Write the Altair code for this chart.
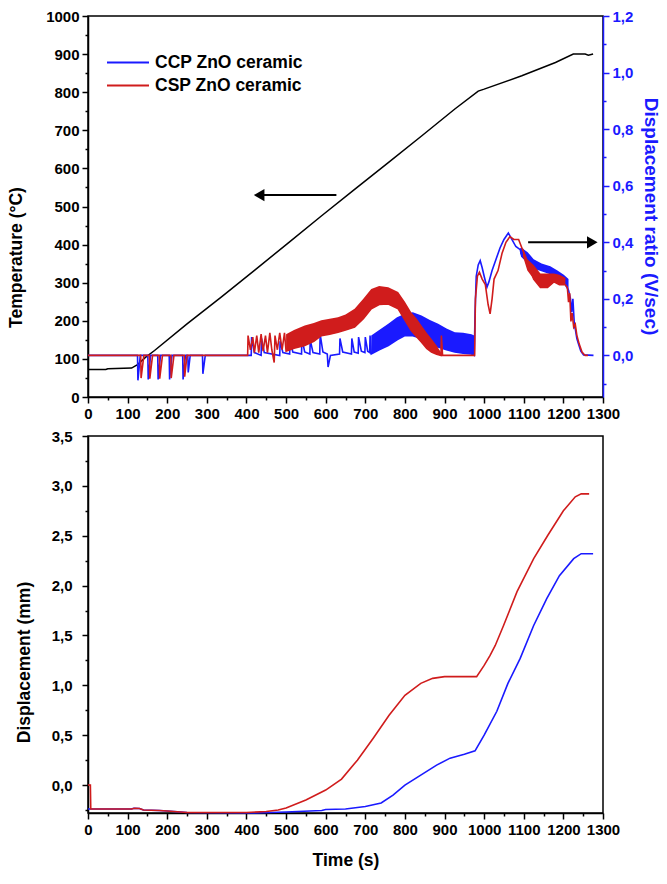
import altair as alt
import pandas as pd

# ---------------- data ----------------
series_names = ["CCP ZnO ceramic", "CSP ZnO ceramic"]
series_colors = ["#1a1aff", "#d01c1c"]

# temperature (black), time s -> °C
temp_time = [0, 45, 50, 110, 125, 145, 168, 250, 337, 421, 505, 589, 673, 758,
             842, 926, 985, 1000, 1095, 1180, 1225, 1255, 1263, 1275]
temp_vals = [72, 72, 74, 76, 85, 104, 122, 192, 263, 333, 404, 475, 545, 615,
             685, 756, 803, 808, 843, 878, 900, 900, 897, 900]

# displacement ratio (V/sec) lines: (time, ratio)
ccp_ratio = [(0, 0), (125, 0), (126, -0.088), (132, 0), (151, 0), (152, -0.085), (158, 0),
             (176, 0), (177, -0.085), (183, 0), (205, 0), (206, -0.085), (212, 0),
             (239, 0), (240, -0.085), (246, 0), (252, 0), (253, -0.06), (258, 0),
             (289, 0), (290, -0.065), (296, 0),
             (412, 0), (413, 0.065), (420, 0.01), (437, 0), (438, 0.06), (445, 0.01),
             (484, 0), (485, 0.05), (492, 0.01), (509, 0.005), (510, 0.055), (517, 0.012),
             (539, 0.005), (540, 0.06), (547, 0.012), (560, 0.005), (561, 0.055), (568, 0.01),
             (585, 0.005), (586, 0.075), (593, 0.012), (604, 0.005), (606, -0.041), (612, 0),
             (635, 0.005), (636, 0.06), (643, 0.012), (665, 0.005), (666, 0.06), (672, 0.012),
             (682, 0.008), (683, 0.065), (690, 0.015), (699, 0.01), (700, 0.065), (706, 0.015),
             (711, 0.01), (712, 0.07), (715, 0.005), (735, 0.02), (758, 0.035), (780, 0.055),
             (800, 0.07), (820, 0.07), (842, 0.06), (863, 0.045), (884, 0.03), (905, 0.02),
             (926, 0.012), (947, 0.008), (968, 0.005), (975, 0), (977, 0.15), (980, 0.28),
             (985, 0.32), (990, 0.335), (995, 0.31), (1000, 0.28), (1007, 0.241), (1012, 0.26),
             (1020, 0.3), (1030, 0.34), (1040, 0.38), (1050, 0.41), (1061, 0.433), (1070, 0.41),
             (1080, 0.385), (1091, 0.374), (1095, 0.35), (1110, 0.33), (1125, 0.31),
             (1145, 0.3), (1167, 0.29), (1185, 0.27), (1201, 0.26), (1213, 0.23), (1218, 0.2),
             (1221, 0.153), (1224, 0.2), (1228, 0.1), (1230, 0.094), (1234, 0.06),
             (1238, 0.041), (1244, 0.015), (1251, 0.002), (1276, 0)]

csp_ratio = [(0, 0), (133, 0), (134, -0.08), (141, 0), (155, 0), (156, -0.082), (163, 0),
             (180, 0), (181, -0.082), (188, 0), (209, 0), (210, -0.08), (217, 0),
             (243, 0), (244, -0.075), (250, 0), (403, 0), (404, 0.07), (410, 0.02),
             (416, 0.065), (420, 0.01), (426, 0.07), (431, 0.01), (437, 0.075), (442, 0.015),
             (448, 0.07), (453, 0.01), (459, 0.08), (464, 0.02), (470, -0.025), (472, 0.07),
             (478, 0.02), (484, 0.08), (490, 0.02), (496, 0.08), (500, 0.015), (520, 0.025),
             (547, 0.035), (570, 0.05), (589, 0.07), (610, 0.075), (631, 0.082), (650, 0.09),
             (673, 0.1), (695, 0.13), (715, 0.165), (735, 0.18), (758, 0.182), (783, 0.165),
             (800, 0.125), (816, 0.088), (830, 0.065), (842, 0.047), (855, 0.025),
             (867, 0.012), (880, 0.004), (891, 0), (892, 0.07), (895, 0), (976, 0),
             (978, 0.2), (983, 0.28), (988, 0.294), (995, 0.27), (1003, 0.25), (1010, 0.18),
             (1015, 0.147), (1020, 0.2), (1025, 0.27), (1035, 0.3), (1045, 0.36), (1055, 0.4),
             (1065, 0.42), (1075, 0.41), (1087, 0.41), (1098, 0.37), (1109, 0.33),
             (1125, 0.27), (1142, 0.24), (1160, 0.24), (1176, 0.26), (1190, 0.25),
             (1205, 0.25), (1210, 0.24), (1213, 0.188), (1216, 0.22), (1219, 0.12),
             (1222, 0.15), (1226, 0.1), (1230, 0.11), (1234, 0.071), (1240, 0.04),
             (1247, 0.012), (1255, 0), (1262, 0)]

# dense-noise envelopes: (time, low, high)
ccp_band = [(715, 0.005, 0.07), (735, 0.02, 0.09), (758, 0.035, 0.112), (780, 0.055, 0.135),
            (800, 0.07, 0.147), (820, 0.07, 0.153), (842, 0.06, 0.141), (863, 0.045, 0.125),
            (884, 0.03, 0.112), (905, 0.02, 0.095), (926, 0.012, 0.082), (947, 0.008, 0.08),
            (968, 0.005, 0.075), (975, 0.0, 0.07),
            (1091, 0.36, 0.38), (1095, 0.35, 0.38), (1110, 0.33, 0.365), (1125, 0.31, 0.34),
            (1145, 0.3, 0.325), (1167, 0.29, 0.315), (1185, 0.27, 0.3), (1201, 0.26, 0.285),
            (1213, 0.23, 0.27)]
ccp_band_group = [1] * 14 + [2] * 9

csp_band = [(500, 0.015, 0.075), (520, 0.025, 0.09), (547, 0.035, 0.106), (570, 0.05, 0.115),
            (589, 0.07, 0.124), (610, 0.075, 0.13), (631, 0.082, 0.135), (650, 0.09, 0.145),
            (673, 0.1, 0.165), (695, 0.13, 0.2), (715, 0.165, 0.235), (735, 0.18, 0.245),
            (758, 0.182, 0.241), (783, 0.165, 0.224), (800, 0.125, 0.19), (816, 0.088, 0.153),
            (830, 0.065, 0.13), (842, 0.047, 0.106), (855, 0.025, 0.08), (867, 0.012, 0.059),
            (880, 0.004, 0.035), (891, 0.0, 0.01),
            (1098, 0.35, 0.38), (1109, 0.3, 0.34), (1125, 0.27, 0.32), (1142, 0.24, 0.29),
            (1160, 0.24, 0.29), (1176, 0.26, 0.29), (1190, 0.25, 0.285), (1205, 0.25, 0.275)]
csp_band_group = [1] * 22 + [2] * 8

# displacement (mm)
ccp_disp = [(0, -0.24), (110, -0.24), (115, -0.232), (130, -0.235), (140, -0.25),
            (180, -0.255), (200, -0.26), (250, -0.275), (420, -0.28), (500, -0.27),
            (590, -0.255), (600, -0.245), (650, -0.24), (700, -0.215), (740, -0.18),
            (770, -0.1), (800, 0.0), (840, 0.1), (880, 0.2), (914, 0.27), (950, 0.31),
            (977, 0.343), (1000, 0.5), (1032, 0.74), (1060, 1.02), (1091, 1.27),
            (1125, 1.6), (1158, 1.87), (1190, 2.1), (1226, 2.27), (1245, 2.32), (1275, 2.32)]
csp_disp = [(0, 0), (6, 0), (7, -0.24), (110, -0.24), (118, -0.232), (130, -0.235),
            (140, -0.25), (180, -0.255), (200, -0.26), (250, -0.275), (400, -0.275),
            (450, -0.265), (480, -0.25), (500, -0.23), (550, -0.15), (600, -0.05),
            (640, 0.06), (680, 0.25), (720, 0.47), (760, 0.7), (800, 0.9), (840, 1.02),
            (870, 1.07), (900, 1.087), (981, 1.087), (1000, 1.2), (1015, 1.3), (1028, 1.4),
            (1049, 1.6), (1083, 1.94), (1125, 2.27), (1160, 2.5), (1200, 2.75),
            (1230, 2.89), (1245, 2.92), (1265, 2.92)]

# annotation arrows (data units)
arrow_left = {"t_head": 432, "t_tail": 627, "T": 530}
arrow_right = {"t_head": 1273, "t_tail": 1111, "r": 0.4}

# ---------------- tables ----------------
def line_df(pairs, name, col):
    return pd.DataFrame({"t": [p[0] for p in pairs], col: [p[1] for p in pairs],
                         "series": name, "order": range(len(pairs))})

def band_df(rows, groups, name):
    return pd.DataFrame({"t": [r[0] for r in rows], "lo": [r[1] for r in rows],
                         "hi": [r[2] for r in rows], "series": name,
                         "grp": [f"{name}-{g}" for g in groups]})

temp_df = pd.DataFrame({"t": temp_time, "T": temp_vals})
ratio_df = pd.concat([line_df(ccp_ratio, series_names[0], "r"),
                      line_df(csp_ratio, series_names[1], "r")])
band_all = pd.concat([band_df(ccp_band, ccp_band_group, series_names[0]),
                      band_df(csp_band, csp_band_group, series_names[1])])
disp_df = pd.concat([line_df(ccp_disp, series_names[0], "d"),
                     line_df(csp_disp, series_names[1], "d")])

arrL_rule = pd.DataFrame({"t": [arrow_left["t_head"]], "t2": [arrow_left["t_tail"]],
                          "T": [arrow_left["T"]]})
arrR_rule = pd.DataFrame({"t": [arrow_right["t_tail"]], "t2": [arrow_right["t_head"]],
                          "r": [arrow_right["r"]]})

FONT = "Liberation Sans"
LBL = 15
TTL = 17.5
BLUE = "#1a1aff"

color_scale = alt.Scale(domain=series_names, range=series_colors)

x_scale = alt.Scale(domain=[0, 1300], nice=False, zero=False)
x_vals = list(range(0, 1301, 50))
x_major = "datum.value % 100 === 0"


def x_axis(title):
    kw = dict(values=x_vals, labelExpr=f"{x_major} ? format(datum.value, 'd') : ''",
              tickSize={"condition": {"test": x_major, "value": 6}, "value": 3},
              labelFlush=False, labelOverlap=False, grid=False, labelPadding=3)
    if title:
        return alt.Axis(title=title, titlePadding=14, **kw)
    return alt.Axis(title=None, **kw)


X_top = alt.X("t:Q", scale=x_scale, axis=x_axis(None))
X_bot = alt.X("t:Q", scale=x_scale, axis=x_axis("Time (s)"))

TOP_H = 381
BOT_H = 377

# left temperature axis
T_major = "datum.value % 100 === 0"
T_axis = alt.Axis(title="Temperature (°C)", values=list(range(0, 1001, 50)),
                  labelExpr=f"{T_major} ? format(datum.value, 'd') : ''",
                  tickSize={"condition": {"test": T_major, "value": 6}, "value": 3},
                  grid=False, labelOverlap=False, labelPadding=3, titlePadding=20,
                  titleY=241)
T_scale = alt.Scale(domain=[0, 1000], nice=False, zero=False)

# right ratio axis
r_major = "abs(round(datum.value*10)) % 2 === 0"
r_axis = alt.Axis(title="Displacement ratio (V/sec)", orient="right",
                  values=[i / 10 for i in range(-1, 13)],
                  labelExpr=f"{r_major} ? replace(format(datum.value, '.1f'), '.', ',') : ''",
                  tickSize={"condition": {"test": r_major, "value": 6}, "value": 3},
                  grid=False, labelOverlap=False, labelPadding=3, titlePadding=8,
                  titleY=200, titleFontSize=19,
                  domainColor=BLUE, tickColor=BLUE, labelColor=BLUE, titleColor=BLUE)
r_scale = alt.Scale(domain=[-0.147, 1.2], nice=False, zero=False)

# bottom displacement axis
d_major = "round(datum.value*4) % 2 === 0"
d_axis = alt.Axis(title="Displacement (mm)", values=[i / 4 for i in range(-1, 15)],
                  labelExpr=f"{d_major} ? replace(format(datum.value, '.1f'), '.', ',') : ''",
                  tickSize={"condition": {"test": d_major, "value": 6}, "value": 3},
                  grid=False, labelOverlap=False, labelPadding=10, titlePadding=18,
                  titleY=226)
d_scale = alt.Scale(domain=[-0.28, 3.5], nice=False, zero=False)

W = 515

# ---- top panel ----
temp_line = alt.Chart(temp_df).mark_line(color="black", strokeWidth=1.5).encode(
    x=X_top, y=alt.Y("T:Q", scale=T_scale, axis=T_axis))
arrL = alt.Chart(arrL_rule).mark_rule(color="black", strokeWidth=2).encode(
    x=X_top, x2="t2", y=alt.Y("T:Q", scale=T_scale, axis=T_axis))
arrL_head = alt.Chart(arrL_rule).mark_point(shape="triangle-left", size=150, filled=True,
                                            color="black", opacity=1).encode(
    x=X_top, y=alt.Y("T:Q", scale=T_scale, axis=T_axis))
temp_group = alt.layer(temp_line, arrL, arrL_head)

bands = alt.Chart(band_all).mark_area(opacity=1, interpolate="linear").encode(
    x=X_top, y=alt.Y("lo:Q", scale=r_scale, axis=r_axis), y2="hi",
    fill=alt.Fill("series:N", scale=color_scale, legend=None),
    detail="grp:N")
ccp_band_layer = bands.transform_filter(alt.datum.series == series_names[0])
csp_band_layer = bands.transform_filter(alt.datum.series == series_names[1])

ratio_lines = alt.Chart(ratio_df).mark_line(strokeWidth=1.6).encode(
    x=X_top, y=alt.Y("r:Q", scale=r_scale, axis=r_axis),
    color=alt.Color("series:N", scale=color_scale,
                    legend=alt.Legend(title=None, orient="none", legendX=18, legendY=35,
                                      symbolType="stroke", symbolSize=1764,
                                      symbolStrokeWidth=2, labelFontSize=TTL,
                                      labelFont=FONT, labelFontWeight="bold",
                                      clipHeight=23, rowPadding=0, padding=0,
                                      labelOffset=5, labelColor="black")),
    order="order:Q")
ccp_line = ratio_lines.transform_filter(alt.datum.series == series_names[0])
csp_line = ratio_lines.transform_filter(alt.datum.series == series_names[1])

arrR = alt.Chart(arrR_rule).mark_rule(color="black", strokeWidth=2).encode(
    x=X_top, x2="t2", y=alt.Y("r:Q", scale=r_scale, axis=r_axis))
arrR_head = alt.Chart(arrR_rule).mark_point(shape="triangle-right", size=150, filled=True,
                                            color="black", opacity=1).encode(
    x=alt.X("t2:Q", scale=x_scale, axis=x_axis(None)),
    y=alt.Y("r:Q", scale=r_scale, axis=r_axis))

ratio_group = alt.layer(ccp_line, ccp_band_layer, csp_line, csp_band_layer, arrR, arrR_head)

top = alt.layer(temp_group, ratio_group).resolve_scale(y="independent").properties(
    width=W, height=TOP_H)

# ---- bottom panel ----
bottom = alt.Chart(disp_df).mark_line(strokeWidth=1.6).encode(
    x=X_bot, y=alt.Y("d:Q", scale=d_scale, axis=d_axis),
    color=alt.Color("series:N", scale=color_scale, legend=None),
    order="order:Q").properties(width=W, height=BOT_H)

chart = alt.vconcat(top, bottom, spacing=6).resolve_legend(color="independent").configure(
    padding={"left": 6, "top": 8, "right": 0, "bottom": 0}
).configure_view(stroke="black", strokeWidth=1.5).configure_axis(
    labelFont=FONT, labelFontSize=LBL, labelFontWeight="bold", labelColor="black",
    titleFont=FONT, titleFontSize=TTL, titleFontWeight="bold", titleColor="black",
    domainColor="black", domainWidth=1.5, tickColor="black", tickWidth=1.5)

chart.save("out.html", embed_options={"renderer": "svg", "actions": False})
